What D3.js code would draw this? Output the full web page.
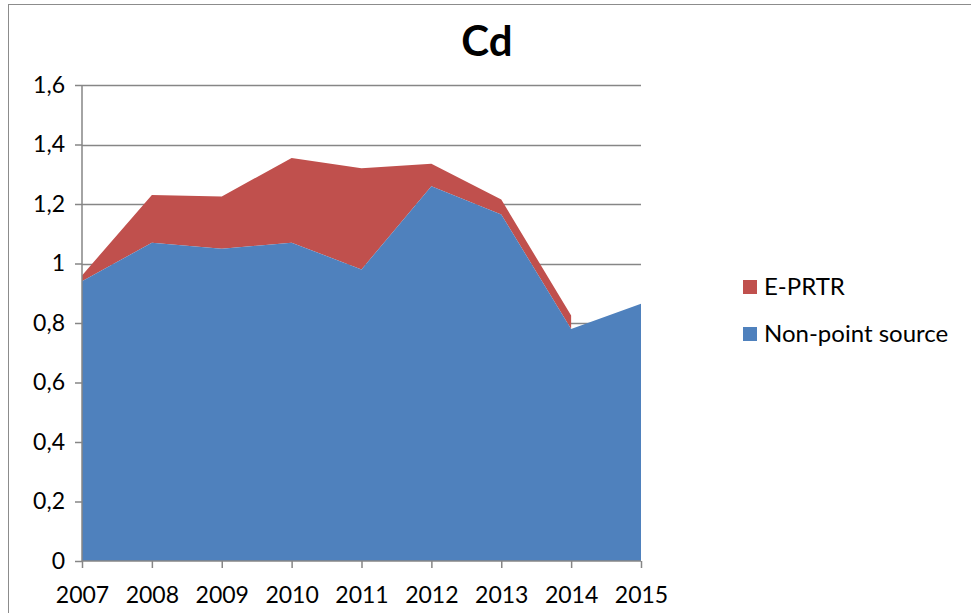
<!DOCTYPE html>
<html><head><meta charset="utf-8">
<script src="https://cdn.jsdelivr.net/npm/d3@7"></script>
<style>body{margin:0;background:#fff}svg{display:block}</style>
</head><body><svg id="c" width="971" height="613"></svg>
<script>
const years = [2007, 2008, 2009, 2010, 2011, 2012, 2013, 2014, 2015];
const nonPoint = [0.94, 1.07, 1.05, 1.07, 0.98, 1.26, 1.165, 0.78, 0.865];
const eprtr = [0.02, 0.16, 0.175, 0.285, 0.34, 0.075, 0.05, 0.045, null];
const yTicks = [0, 0.2, 0.4, 0.6, 0.8, 1, 1.2, 1.4, 1.6];
const seriesNames = ["E-PRTR", "Non-point source"];
const colors = {"E-PRTR": "#C0504D", "Non-point source": "#4F81BD"};

const font = "Lato, 'Open Sans', sans-serif";
const svg = d3.select("#c");
svg.append("rect").attr("x", 8.5).attr("y", 4.5).attr("width", 980).attr("height", 620)
  .attr("fill", "#fff").attr("stroke", "#8c8c8c").attr("stroke-width", 1);

const x = d3.scalePoint().domain(years).range([82, 641]);
const y = d3.scaleLinear().domain([0, 1.6]).range([561, 85]);

// gridlines
svg.append("g").selectAll("line").data(yTicks.filter(d => d > 0)).join("line")
  .attr("x1", 82).attr("x2", 641).attr("y1", d => Math.round(y(d)) + 0.5).attr("y2", d => Math.round(y(d)) + 0.5)
  .attr("stroke", "#868686").attr("stroke-width", 1.5);

const data = years.map((yr, i) => ({year: yr, np: nonPoint[i], ep: eprtr[i]}));
const areaBlue = d3.area().x(d => x(d.year)).y0(y(0)).y1(d => y(d.np));
const areaRed = d3.area().defined(d => d.ep !== null)
  .x(d => x(d.year)).y0(d => y(d.np)).y1(d => y(d.np + d.ep));
svg.append("path").datum(data).attr("d", areaRed).attr("fill", colors["E-PRTR"]);
svg.append("path").datum(data).attr("d", areaBlue).attr("fill", colors["Non-point source"]);

// axes
const yAxis = d3.axisLeft(y).tickValues(yTicks).tickSize(7).tickPadding(10)
  .tickFormat(d => d3.format("")(+d.toFixed(1)).replace(".", ","));
const gy = svg.append("g").attr("transform", "translate(82,0)").call(yAxis);
const xAxis = d3.axisBottom(x).tickSize(7).tickPadding(19).tickFormat(d => d);
const gx = svg.append("g").attr("transform", `translate(0,${y(0)})`).call(xAxis);
[gx, gy].forEach(g => {
  g.selectAll("path.domain").attr("stroke", "#868686").attr("stroke-width", 1.5);
  g.selectAll(".tick line").attr("stroke", "#868686").attr("stroke-width", 1.5);
  g.selectAll("text").attr("font-family", font).attr("font-size", 23).attr("fill", "#000");
});
gx.select("path.domain").attr("d", "M82,0H641");
gy.select("path.domain").attr("d", "M0,85V561");

// title
svg.append("text").attr("x", 487).attr("y", 56).attr("text-anchor", "middle")
  .attr("font-family", font).attr("font-weight", "bold").attr("font-size", 42).text("Cd");

// legend
const lg = svg.append("g");
seriesNames.forEach((n, i) => {
  const yy = 280 + i * 47;
  lg.append("rect").attr("x", 743).attr("y", yy).attr("width", 14).attr("height", 14).attr("fill", colors[n]);
  lg.append("text").attr("x", 764).attr("y", yy + 15).attr("font-family", font).attr("font-size", 24).text(n);
});
</script></body></html>
